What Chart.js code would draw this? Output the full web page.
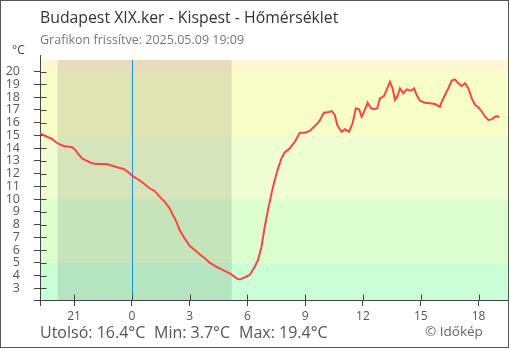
<!DOCTYPE html>
<html lang="hu">
<head>
<meta charset="utf-8">
<title>Budapest XIX.ker - Kispest - Hőmérséklet</title>
<script src="https://cdn.jsdelivr.net/npm/chart.js@4/dist/chart.umd.min.js"></script>
<style>
  html, body { margin: 0; padding: 0; background: #fff; }
  canvas { display: block; }
</style>
</head>
<body>
<canvas id="chart" width="510" height="350"></canvas>
<script>
// Hours relative to midnight of 2025.05.09 (negative = previous evening)
const hours = [
  -4.80, -4.49, -4.14, -3.97, -3.80, -3.54, -3.28, -3.10, -2.93, -2.76,
  -2.58, -2.32, -2.06, -1.80, -1.54, -1.28, -1.02, -0.68, -0.42, -0.16,
   0.02,  0.23,  0.36,  0.57,  0.92,  1.18,  1.44,  1.70,  1.96,  2.13,
   2.31,  2.48,  2.74,  3.00,  3.26,  3.52,  3.78,  4.04,  4.39,  4.73,
   5.08,  5.25,  5.43,  5.60,  5.86,  6.12,  6.38,  6.55,  6.73,  6.90,
   7.07,  7.25,  7.42,  7.59,  7.77,  7.94,  8.20,  8.46,  8.72,  8.98,
   9.24,  9.50,  9.72,  9.97, 10.19, 10.37, 10.54, 10.66, 10.89, 11.06,
  11.28, 11.46, 11.63, 11.80, 11.93, 12.06, 12.24, 12.41, 12.58, 12.74,
  12.88, 13.09, 13.26, 13.40, 13.54, 13.66, 13.78, 13.92, 14.09, 14.27,
  14.48, 14.65, 14.79, 14.96, 15.22, 15.48, 15.74, 15.91, 16.00, 16.09,
  16.26, 16.43, 16.61, 16.78, 16.95, 17.13, 17.30, 17.47, 17.65, 17.82,
  17.99, 18.17, 18.34, 18.51, 18.69, 18.86, 18.98, 19.08
];

// Temperature, °C
const temps = [
  15.20, 14.95, 14.72, 14.50, 14.33, 14.17, 14.11, 14.07, 13.85, 13.50,
  13.20, 12.99, 12.81, 12.76, 12.76, 12.73, 12.62, 12.46, 12.36, 12.08,
  11.84, 11.62, 11.52, 11.28, 10.85, 10.64, 10.19,  9.80,  9.28,  8.75,
   8.23,  7.57,  6.92,  6.34,  6.00,  5.67,  5.35,  5.01,  4.69,  4.43,
   4.18,  3.99,  3.78,  3.70,  3.85,  4.05,  4.69,  5.22,  6.26,  7.83,
   9.14, 10.45, 11.50, 12.42, 13.20, 13.67, 13.99, 14.50, 15.21, 15.21,
  15.35, 15.74, 16.08, 16.78, 16.81, 16.92, 16.60, 15.82, 15.29, 15.48,
  15.29, 15.95, 17.13, 17.05, 16.47, 16.86, 17.57, 17.13, 17.05, 17.13,
  17.91, 18.09, 18.70, 19.20, 18.70, 17.78, 18.04, 18.70, 18.30, 18.62,
  18.51, 18.70, 18.17, 17.72, 17.57, 17.52, 17.46, 17.31, 17.25, 17.65,
  18.17, 18.70, 19.30, 19.40, 19.09, 18.88, 19.09, 18.70, 17.91, 17.39,
  17.21, 16.86, 16.47, 16.21, 16.26, 16.47, 16.52, 16.40
];

// Axis ticks
const hourTicks = [-3, 0, 3, 6, 9, 12, 15, 18];
const tempTicks = [3, 4, 5, 6, 7, 8, 9, 10, 11, 12, 13, 14, 15, 16, 17, 18, 19, 20];

// Temperature bands (lower limits) and their background colours
const bandLimits = [-Infinity, 5, 10, 15, 20];
const bandColors = ['#c9fed6', '#dcfecf', '#effed2', '#f8fec7', '#fff7d1'];

// Night: sunset and sunrise, hours relative to midnight
const sunset = -3.86;
const sunrise = 5.18;

const titleText = 'Budapest XIX.ker - Kispest - Hőmérséklet';
const subtitleText = 'Grafikon frissítve: 2025.05.09 19:09';
const unitText = '°C';
const lastValue = 16.4;
const minValue = 3.7;
const maxValue = 19.4;
const creditText = '© Időkép';

const FONT = '"Open Sans", "Noto Sans", sans-serif';
const AXIS_COLOR = '#444';
const TICK_HALF = 6;

const fmt = v => v.toFixed(1) + '°C';

const decor = {
  id: 'decor',
  beforeDraw(chart) {
    const { ctx, chartArea: a, scales: { x, y } } = chart;
    ctx.save();
    ctx.fillStyle = '#fff';
    ctx.fillRect(0, 0, chart.width, chart.height);

    // temperature bands
    for (let i = 0; i < bandLimits.length; i++) {
      const lo = Math.max(bandLimits[i], y.min);
      const hi = i + 1 < bandLimits.length ? Math.min(bandLimits[i + 1], y.max) : y.max;
      const yTop = y.getPixelForValue(hi);
      const yBot = y.getPixelForValue(lo);
      ctx.fillStyle = bandColors[i];
      ctx.fillRect(a.left, yTop, a.right - a.left, yBot - yTop);
    }

    // night shading
    const xs = x.getPixelForValue(sunset);
    const xe = x.getPixelForValue(sunrise);
    ctx.fillStyle = 'rgba(0,0,0,0.1)';
    ctx.fillRect(xs, a.top, xe - xs, a.bottom - a.top);
    ctx.restore();
  },
  beforeDatasetsDraw(chart) {
    const { ctx, chartArea: a, scales: { x, y } } = chart;
    ctx.save();
    // midnight marker
    const xm = Math.round(x.getPixelForValue(0)) + 0.5;
    ctx.strokeStyle = '#1a90e6';
    ctx.lineWidth = 1;
    ctx.beginPath();
    ctx.moveTo(xm, a.top);
    ctx.lineTo(xm, a.bottom);
    ctx.stroke();

    // inner halves of tick marks and axis overhangs
    ctx.strokeStyle = AXIS_COLOR;
    ctx.beginPath();
    const ax = Math.round(a.left) + 0.5;
    const ay = Math.round(a.bottom) + 0.5;
    tempTicks.forEach(t => {
      const py = Math.round(y.getPixelForValue(t)) + 0.5;
      ctx.moveTo(ax, py);
      ctx.lineTo(ax + TICK_HALF, py);
    });
    hourTicks.forEach(h => {
      const px = Math.round(x.getPixelForValue(h)) + 0.5;
      ctx.moveTo(px, ay);
      ctx.lineTo(px, ay - TICK_HALF);
    });
    ctx.moveTo(ax, a.top - 5);
    ctx.lineTo(ax, a.top);
    ctx.moveTo(ax, a.bottom);
    ctx.lineTo(ax, a.bottom + TICK_HALF);
    ctx.moveTo(a.left - TICK_HALF, ay);
    ctx.lineTo(a.left, ay);
    ctx.stroke();
    ctx.restore();
  },
  afterDraw(chart) {
    const { ctx } = chart;
    ctx.save();
    ctx.textBaseline = 'middle';
    ctx.textAlign = 'left';

    ctx.fillStyle = '#333';
    ctx.font = '15.8px ' + FONT;
    ctx.fillText(titleText, 40, 18);

    ctx.fillStyle = '#777';
    ctx.font = '12.5px ' + FONT;
    ctx.fillText(subtitleText, 40, 40);

    ctx.fillStyle = '#444';
    ctx.font = '12px ' + FONT;
    ctx.fillText(unitText, 12, 51);

    ctx.fillStyle = '#555';
    ctx.font = '16px ' + FONT;
    ctx.fillText('Utolsó: ' + fmt(lastValue), 40, 333);
    ctx.fillText('Min: ' + fmt(minValue), 154, 333);
    ctx.fillText('Max: ' + fmt(maxValue), 239, 333);

    ctx.fillStyle = '#666';
    ctx.font = '13.5px ' + FONT;
    ctx.fillText(creditText, 425, 332);

    // frame
    ctx.strokeStyle = '#555';
    ctx.lineWidth = 1;
    ctx.strokeRect(0.5, 0.5, 508, 347);
    ctx.restore();
  }
};

new Chart(document.getElementById('chart'), {
  type: 'line',
  data: {
    datasets: [{
      data: hours.map((h, i) => ({ x: h, y: temps[i] })),
      borderColor: '#ff4343',
      borderWidth: 2,
      pointRadius: 0,
      tension: 0,
      fill: false
    }]
  },
  options: {
    responsive: false,
    animation: false,
    events: [],
    layout: { padding: { left: 0, top: 60, right: 2, bottom: 0 } },
    plugins: { legend: { display: false }, tooltip: { enabled: false } },
    scales: {
      x: {
        type: 'linear',
        min: -4.77,
        max: 19.53,
        afterBuildTicks: s => { s.ticks = hourTicks.map(v => ({ value: v })); },
        afterFit: s => { s.height = 50; },
        ticks: {
          callback: v => String((v + 24) % 24),
          font: { family: FONT, size: 12 },
          color: '#555',
          padding: 3,
          maxRotation: 0,
          autoSkip: false
        },
        grid: { drawOnChartArea: false, tickLength: TICK_HALF, color: AXIS_COLOR, lineWidth: 1 },
        border: { color: AXIS_COLOR, width: 1 }
      },
      y: {
        type: 'linear',
        min: 2.08,
        max: 20.92,
        afterBuildTicks: s => { s.ticks = tempTicks.map(v => ({ value: v })); },
        afterFit: s => { s.width = 40; },
        ticks: {
          font: { family: FONT, size: 12.5 },
          color: '#555',
          padding: 14,
          autoSkip: false
        },
        grid: { drawOnChartArea: false, tickLength: TICK_HALF, color: AXIS_COLOR, lineWidth: 1 },
        border: { color: AXIS_COLOR, width: 1 }
      }
    }
  },
  plugins: [decor]
});
</script>
</body>
</html>
